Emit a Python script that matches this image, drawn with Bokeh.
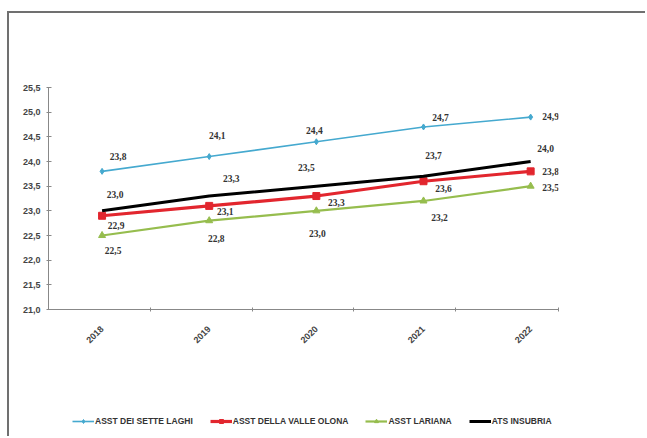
import math
from bokeh.plotting import figure
from bokeh.layouts import column
from bokeh.models import (ColumnDataSource, Legend, LegendItem, FixedTicker,
                          CustomJSTickFormatter, Range1d, LabelSet)
from bokeh.embed import file_html
from bokeh.resources import INLINE

years = ["2018", "2019", "2020", "2021", "2022"]
sette_laghi = [23.8, 24.1, 24.4, 24.7, 24.9]
valle_olona = [22.9, 23.1, 23.3, 23.6, 23.8]
lariana = [22.5, 22.8, 23.0, 23.2, 23.5]
ats_insubria = [23.0, 23.3, 23.5, 23.7, 24.0]
series_names = ["ASST DEI SETTE LAGHI", "ASST DELLA VALLE OLONA", "ASST LARIANA", "ATS INSUBRIA"]

# label offsets (screen px) – styling only
off_blue = ([16, 8, -2, 17, 20], [15, 21, 11, 9, 1])
off_red = ([14, 16, 20, 20, 20], [-10, -6, -6, -7, 0])
off_green = ([11, 7, 1, 16, 20], [-15, -18, -23, -17, -1])
off_black = ([13, 22, -10, 10, 15], [16, 18, 19, 21, 13])

FONT = "Liberation Sans"
c_blue, c_red, c_green, c_black = "#45A9CF", "#E2262E", "#96BD4E", "#000000"
styles_s = [
    dict(color=c_blue, line_width=1.6, marker="diamond", size=6),
    dict(color=c_red, line_width=3.2, marker="square", size=7),
    dict(color=c_green, line_width=2.2, marker="triangle", size=7),
    dict(color=c_black, line_width=3.0, marker=None, size=0),
]

W = 636
H1, H2 = 395, 28
p = figure(width=W, height=H1, output_backend="svg", toolbar_location=None,
           x_range=Range1d(-0.5, 4.26), y_range=Range1d(21.0, 25.5),
           min_border_left=39, min_border_right=W - 39 - 510, min_border_top=74, min_border_bottom=99)
p.xgrid.visible = False
p.ygrid.visible = False
p.outline_line_color = None
p.background_fill_color = "white"
p.border_fill_color = "white"

xs = list(range(len(years)))

def src(vals, off):
    return ColumnDataSource(dict(x=xs, y=vals,
                                 lab=[f"{v:.1f}".replace(".", ",") for v in vals],
                                 dx=off[0], dy=off[1]))

sources = [src(sette_laghi, off_blue), src(valle_olona, off_red),
           src(lariana, off_green), src(ats_insubria, off_black)]

for s, st in zip(sources, styles_s):
    p.line("x", "y", source=s, color=st["color"], line_width=st["line_width"])
    if st["marker"]:
        p.scatter("x", "y", source=s, marker=st["marker"], size=st["size"], color=st["color"])
    p.add_layout(LabelSet(x="x", y="y", text="lab", source=s, x_offset="dx", y_offset="dy",
                          text_align="center", text_baseline="middle",
                          text_font=FONT, text_font_size="9.5px", text_font_style="bold",
                          text_color="#333333"))

# axes
p.yaxis.ticker = FixedTicker(ticks=[21 + 0.5 * i for i in range(10)])
p.yaxis.formatter = CustomJSTickFormatter(code="return tick.toFixed(1).replace('.', ',');")
p.yaxis.major_label_text_font = FONT
p.yaxis.major_label_text_font_size = "9px"
p.yaxis.major_label_text_font_style = "bold"
p.yaxis.major_label_text_color = "#444444"
p.yaxis.axis_line_color = "#888888"
p.yaxis.major_tick_line_color = "#888888"
p.yaxis.major_tick_in = 3
p.yaxis.major_tick_out = 2
p.yaxis.minor_tick_line_color = None
p.yaxis.major_label_standoff = 6

p.xaxis.ticker = FixedTicker(ticks=xs, minor_ticks=[0.45, 1.4, 2.35, 3.3, 4.26])
p.xaxis.major_label_overrides = {i: y for i, y in enumerate(years)}
p.xaxis.major_label_orientation = math.pi / 4
p.xaxis.major_label_text_font = FONT
p.xaxis.major_label_text_font_size = "9px"
p.xaxis.major_label_text_font_style = "bold"
p.xaxis.major_label_text_color = "#444444"
p.xaxis.major_tick_line_color = None
p.xaxis.axis_line_color = "#888888"
p.xaxis.minor_tick_line_color = "#888888"
p.xaxis.minor_tick_in = 2
p.xaxis.minor_tick_out = 2
p.xaxis.major_label_standoff = 12

# legend strip below the chart (its frame is aligned with the main frame)
pl = figure(width=W, height=H2, output_backend="svg", toolbar_location=None,
            x_range=Range1d(0, 1), y_range=Range1d(0, 1),
            min_border_left=39, min_border_right=W - 39 - 510, min_border_top=0, min_border_bottom=0)
pl.axis.visible = False
pl.xgrid.visible = False
pl.ygrid.visible = False
pl.outline_line_color = None
pl.background_fill_color = "white"
pl.border_fill_color = "white"

items = []
for name, st in zip(series_names, styles_s):
    # same series, drawn off-range in this strip: only their legend glyphs show
    rs = [pl.line(x=[v + 10 for v in xs], y=[10, 10, 10, 10, 10],
                  color=st["color"], line_width=st["line_width"])]
    if st["marker"]:
        rs.append(pl.scatter(x=[v + 10 for v in xs], y=[10, 10, 10, 10, 10],
                             marker=st["marker"], size=st["size"] - 2, color=st["color"]))
    items.append(LegendItem(label=name, renderers=rs))

legend = Legend(items=items, orientation="horizontal", location=(24, 10), padding=0, margin=0,
                border_line_color=None, background_fill_alpha=0,
                glyph_width=22, glyph_height=10, label_standoff=1, spacing=17,
                label_text_font=FONT, label_text_font_size="8.5px", label_text_font_style="bold",
                label_text_color="#333333", label_height=10)
pl.add_layout(legend, "center")

layout = column(p, pl, spacing=0, margin=(11, 0, 0, 7), width=W, height=H1 + H2,
                styles={"border-top": "2px solid #707070", "border-left": "2px solid #707070",
                        "box-sizing": "content-box", "overflow": "visible"})

open("out.html", "w").write(file_html(layout, INLINE))
